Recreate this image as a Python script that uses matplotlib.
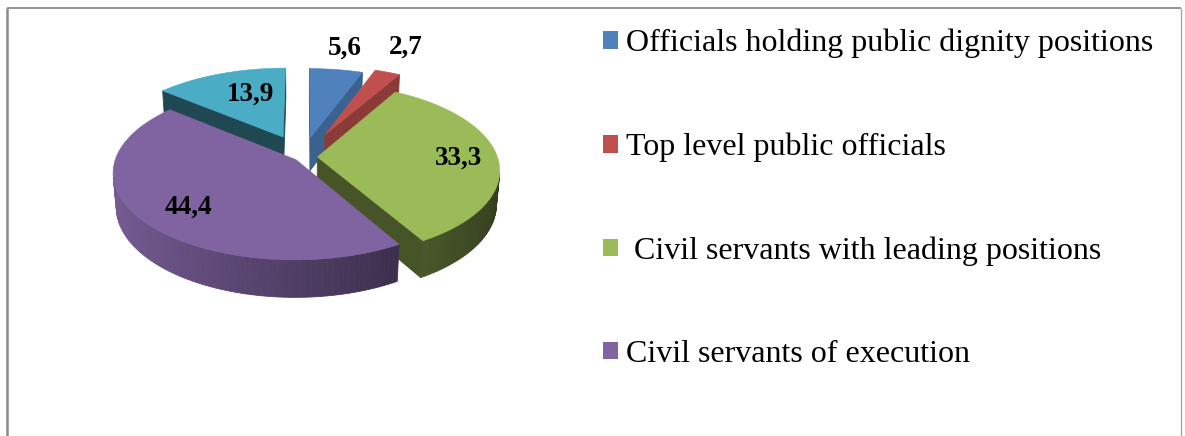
import numpy as np
import matplotlib
matplotlib.use("Agg")
import matplotlib.pyplot as plt
from matplotlib.patches import Polygon, Patch
from matplotlib.colors import to_rgb

# ---------------- data ----------------
categories = ["Officials holding public dignity positions",
              "Top level public officials",
              " Civil servants with leading positions",
              "Civil servants of execution",
              "Other"]
values = [5.6, 2.7, 33.3, 44.4, 13.9]
legend_count = 4  # the reference legend lists only the first four categories

# ---------------- style ----------------
top_colors = ["#4F81BD", "#C0504D", "#9BBB59", "#8064A2", "#4BACC6"]
explode = [0.24, 0.30, 0.08, 0.05, 0.27]
label_radius = [1.38, 1.45, 0.78, 0.75, 0.63]
label_shift_deg = [0, -1.5, 1.5, -3, 5]
radial_shade = [0.75, 0.72, 0.45, 0.50, 0.42]

W, H = 1185, 436
fig = plt.figure(figsize=(W / 100, H / 100), dpi=100)
ax = fig.add_axes([0, 0, 1, 1])
ax.set_xlim(0, W)
ax.set_ylim(H, 0)
ax.axis("off")

# camera / projection
phi = np.radians(28)
D = 6.0
scale = 180.0
cx, cy = 303.0, 157.0
thick = 0.215
C = np.array([0.0, -D * np.cos(phi), D * np.sin(phi)])
fwd = np.array([0.0, np.cos(phi), -np.sin(phi)])
up = np.array([0.0, np.sin(phi), np.cos(phi)])


def proj(P):
    P = np.atleast_2d(np.asarray(P, dtype=float))
    v = P - C
    dz = v @ fwd
    sx = P[:, 0] / dz * D
    sy = (v @ up) / dz * D
    return np.column_stack([cx + scale * sx, cy - scale * sy])


def depth(P):
    P = np.atleast_2d(P)
    return float(np.mean((P - C) @ fwd))


def visible(normal, P):
    P = np.atleast_2d(P)
    return float(np.dot(normal, C - P.mean(axis=0))) > 0


def shade(col, k):
    r, g, b = to_rgb(col)
    k = float(np.clip(k, 0, 1))
    return (r * k, g * k, b * k)


vals = np.array(values, dtype=float)
fracs = vals / vals.sum()
starts = np.concatenate([[0.0], np.cumsum(fracs)[:-1]]) * 2 * np.pi
ends = np.cumsum(fracs) * 2 * np.pi
down = np.array([0.0, 0.0, -thick])

walls = []   # (depth, polygon, color)
tops = []
for i in range(len(values)):
    a0, a1 = starts[i], ends[i]
    mid = 0.5 * (a0 + a1)
    o = explode[i] * np.array([np.sin(mid), np.cos(mid), 0.0])
    n = max(4, int((a1 - a0) / (2 * np.pi) * 240))
    th = np.linspace(a0, a1, n + 1)
    rim = np.column_stack([np.sin(th), np.cos(th), np.zeros_like(th)]) + o
    col = top_colors[i]
    # top face
    top_poly = np.vstack([o, rim])
    tops.append((proj(top_poly), col))
    # outer wall
    for j in range(n):
        tm = 0.5 * (th[j] + th[j + 1])
        quad = np.array([rim[j], rim[j + 1], rim[j + 1] + down, rim[j] + down])
        nrm = np.array([np.sin(tm), np.cos(tm), 0.0])
        if visible(nrm, quad):
            k = 0.62 - 0.30 * np.sin(tm)
            walls.append((depth(quad), proj(quad), shade(col, k)))
    # radial walls
    for a, nrm in ((a0, np.array([-np.cos(a0), np.sin(a0), 0.0])),
                   (a1, np.array([np.cos(a1), -np.sin(a1), 0.0]))):
        edge = o + np.array([np.sin(a), np.cos(a), 0.0])
        quad = np.array([o, edge, edge + down, o + down])
        if visible(nrm, quad):
            walls.append((depth(quad), proj(quad), shade(col, radial_shade[i])))

walls.sort(key=lambda w: -w[0])
z = 1
for d, pts, c in walls:
    ax.add_patch(Polygon(pts, closed=True, facecolor=c, edgecolor=c, lw=0.6, zorder=z))
    z += 0.001
for pts, c in tops:
    ax.add_patch(Polygon(pts, closed=True, facecolor=c, edgecolor=c, lw=0.4, zorder=5))

# data labels
for i in range(len(values)):
    mid = 0.5 * (starts[i] + ends[i])
    o = explode[i] * np.array([np.sin(mid), np.cos(mid), 0.0])
    la = mid + np.radians(label_shift_deg[i])
    p = proj(o + label_radius[i] * np.array([np.sin(la), np.cos(la), 0.0]))[0]
    ax.text(p[0], p[1], f"{values[i]:.1f}".replace(".", ","), ha="center", va="center",
            fontsize=19.5, fontweight="bold", family="Liberation Serif", color="black", zorder=10)

# legend
handles = [Patch(facecolor=top_colors[i], edgecolor="none") for i in range(legend_count)]
ax.legend(handles, categories[:legend_count], loc="upper left",
          bbox_to_anchor=(603 / W, 1 - 29 / H), frameon=False,
          prop={"family": "Liberation Serif", "size": 23},
          handlelength=0.47, handleheight=0.47, handletextpad=0.25,
          labelspacing=2.32, borderaxespad=0, borderpad=0)

# chart border
ax.plot([7, 7], [8, H + 5], color="#8A8A8A", lw=1.8, solid_capstyle="butt", zorder=20)
ax.plot([7, 1181], [8.5, 8.5], color="#8A8A8A", lw=1.3, solid_capstyle="butt", zorder=20)
ax.plot([1181, 1181], [8, H + 5], color="#A0A0A0", lw=0.9, solid_capstyle="butt", zorder=20)

fig.savefig("out.png", dpi=100)
